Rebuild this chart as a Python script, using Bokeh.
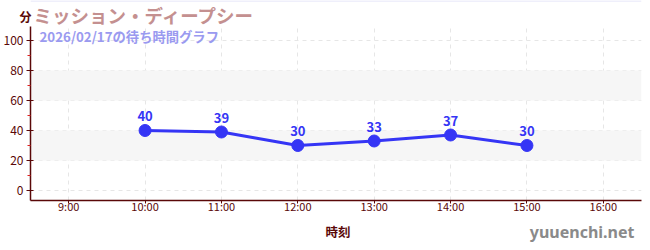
from bokeh.plotting import figure
from bokeh.models import (ColumnDataSource, FixedTicker, Label, LabelSet, BoxAnnotation,
                          Range1d, Span)
from bokeh.layouts import column
from bokeh.core.properties import value
from bokeh.embed import file_html
from bokeh.resources import INLINE

hours = [10, 11, 12, 13, 14, 15]
waits = [40, 39, 30, 33, 37, 30]
wait_labels = [str(v) for v in waits]
x_ticks = [9, 10, 11, 12, 13, 14, 15, 16]
x_tick_labels = ["9:00", "10:00", "11:00", "12:00", "13:00", "14:00", "15:00", "16:00"]
y_ticks = [0, 20, 40, 60, 80, 100]
title_text = "ミッション・ディープシー"
subtitle_text = "2026/02/17の待ち時間グラフ"
y_unit = "分"
x_title = "時刻"
site = "yuuenchi.net"

JP = "Noto Sans CJK JP"
AX = "#5a0808"
BLUE = "#3535f5"
W = 650
LEFT, RIGHT = 30, 9          # frame borders shared by all rows (column aligns frames)
HEAD_H, MAIN_H, FOOT_H = 26, 196, 28


def strip(height, y_axis=False):
    f = figure(width=W, height=height, output_backend="svg", toolbar_location=None,
               x_range=Range1d(LEFT, W - RIGHT), y_range=Range1d(height, 0),
               x_axis_location=None, y_axis_location="left" if y_axis else None,
               min_border_left=LEFT, min_border_right=RIGHT,
               min_border_top=0, min_border_bottom=0)
    f.outline_line_color = None
    f.background_fill_color = "white"
    f.border_fill_color = "white"
    f.grid.visible = False
    return f


# ---- header (title row); "分" is the header's single left tick label
head = strip(HEAD_H, y_axis=True)
head.yaxis.ticker = FixedTicker(ticks=[16])
head.yaxis.major_label_overrides = {16: y_unit}
head.yaxis.axis_line_color = None
head.yaxis.major_tick_line_color = None
head.yaxis.minor_tick_line_color = None
head.yaxis.major_tick_out = 0
head.yaxis.major_tick_in = 0
head.yaxis.minor_tick_out = 0
head.yaxis.major_label_standoff = -1
head.yaxis.major_label_text_font = JP
head.yaxis.major_label_text_font_style = "bold"
head.yaxis.major_label_text_font_size = "12px"
head.yaxis.major_label_text_color = AX
head.add_layout(Span(location=0.5, dimension="width", line_color="#e0e0f8", line_width=1))
head.text(x=[33], y=[14], text=[title_text], text_font=value(JP), text_font_style="bold",
          text_font_size="18.5px", text_color="#c49090", text_baseline="middle")

# ---- main chart
src = ColumnDataSource(dict(x=hours, y=waits, t=wait_labels))

p = figure(width=W, height=MAIN_H, output_backend="svg", toolbar_location=None,
           x_range=(8.5, 16.5), y_range=(-6.67, 109.33),
           min_border_left=LEFT, min_border_right=RIGHT, min_border_top=0,
           min_border_bottom=22)
p.outline_line_color = None
p.background_fill_color = "white"
p.border_fill_color = "white"

for b0, b1 in [(20, 40), (60, 80)]:
    p.add_layout(BoxAnnotation(bottom=b0, top=b1, fill_color="#f6f6f6", fill_alpha=1,
                               line_color=None, level="underlay"))

p.xaxis.ticker = FixedTicker(ticks=x_ticks)
p.xaxis.major_label_overrides = {t: l for t, l in zip(x_ticks, x_tick_labels)}
p.yaxis.ticker = FixedTicker(ticks=y_ticks, minor_ticks=[10, 30, 50, 70, 90])
for ax in (p.xaxis[0], p.yaxis[0]):
    ax.axis_line_color = AX
    ax.axis_line_width = 1.5
    ax.major_tick_line_color = AX
    ax.major_label_text_color = AX
    ax.major_label_text_font = JP
    ax.major_label_text_font_size = "11px"
    ax.major_tick_in = 3
    ax.major_tick_out = 4
p.yaxis.major_label_text_font_size = "12px"
p.yaxis.major_label_standoff = 3
p.xaxis.major_label_standoff = -6
p.xaxis.major_tick_out = 3
p.xaxis.major_tick_in = 0
p.yaxis.minor_tick_line_color = "#dd2020"
p.yaxis.minor_tick_out = 3
p.yaxis.minor_tick_in = 0
p.xaxis.minor_tick_line_color = None

p.xgrid.grid_line_color = "#e6e6e6"
p.xgrid.grid_line_dash = "4 4"
p.ygrid.grid_line_color = "#e6e6e6"
p.ygrid.grid_line_dash = "4 4"

p.line("x", "y", source=src, line_color=BLUE, line_width=3)
p.scatter("x", "y", source=src, size=12, fill_color=BLUE, line_color=BLUE)
p.add_layout(LabelSet(x="x", y="y", text="t", source=src, y_offset=9,
                      text_align="center", text_baseline="bottom",
                      text_color=BLUE, text_font=value(JP), text_font_style="bold",
                      text_font_size="13px"))

# subtitle at the very top of the frame (screen units from frame bottom-left)
p.add_layout(Label(x=9, y=MAIN_H - 22, x_units="screen", y_units="screen",
                   text=subtitle_text, text_font=JP, text_font_style="bold",
                   text_font_size="13.3px", text_color="#9a9af0", text_baseline="top"))

# ---- footer (axis title + site name)
foot = strip(FOOT_H)
foot.text(x=[337.5], y=[9], text=[x_title], text_font=value(JP), text_font_style="bold",
          text_font_size="12.5px", text_color=AX, text_align="center", text_baseline="middle")
foot.text(x=[634], y=[9.5], text=[site], text_font=value("Noto Sans"), text_font_style="bold",
          text_font_size="16px", text_color="#8a8a8a", text_align="right",
          text_baseline="middle")

layout = column(head, p, foot, spacing=0)
open("out.html", "w").write(file_html(layout, INLINE))
